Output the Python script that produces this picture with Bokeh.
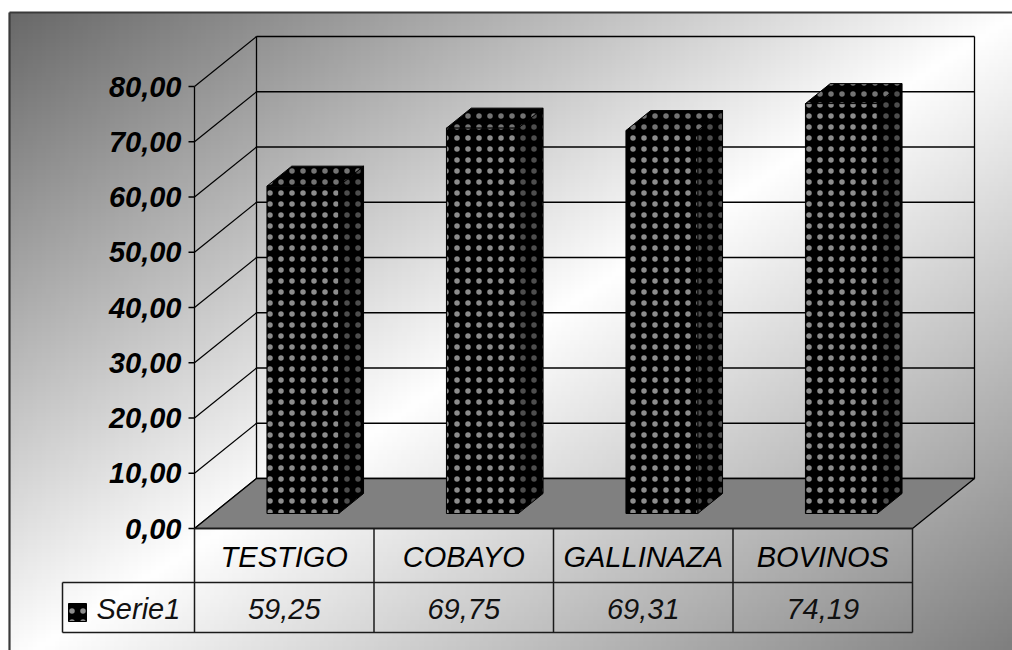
import numpy as np
from bokeh.plotting import figure
from bokeh.models import Range1d
from bokeh.core.properties import value
from bokeh.embed import file_html
from bokeh.resources import INLINE

# ---- data -------------------------------------------------------------
categories = ["TESTIGO", "COBAYO", "GALLINAZA", "BOVINOS"]
serie1 = [59.25, 69.75, 69.31, 74.19]
series_name = "Serie1"
y_ticks = [0, 10, 20, 30, 40, 50, 60, 70, 80]
y_tick_labels = ["0,00", "10,00", "20,00", "30,00", "40,00",
                 "50,00", "60,00", "70,00", "80,00"]

# ---- canvas geometry (1 x-unit = one category slot, 1 y-unit = one value unit)
W, H = 1012, 650
PX_X = 179.5           # pixels per category
PX_Y = 5.525           # pixels per value unit
ORIGIN_PX = (194, 528)  # front-left corner of the floor
x_lo = -ORIGIN_PX[0] / PX_X
x_hi = (W - ORIGIN_PX[0]) / PX_X
y_lo = (ORIGIN_PX[1] - H) / PX_Y
y_hi = ORIGIN_PX[1] / PX_Y

def px_to_x(px):
    return (px - ORIGIN_PX[0]) / PX_X

def py_to_y(py):
    return (ORIGIN_PX[1] - py) / PX_Y

DX = 62 / PX_X         # oblique depth offset of the walls
DY = 50 / PX_Y
N = len(categories)
YMAX = y_ticks[-1]

FONT = value("Liberation Sans")

p = figure(width=W, height=H, x_range=Range1d(x_lo, x_hi), y_range=Range1d(y_lo, y_hi),
           output_backend="svg", toolbar_location=None, min_border=0,
           x_axis_location=None, y_axis_location=None)
p.grid.visible = False
p.outline_line_color = None
p.background_fill_color = "white"
p.border_fill_color = "white"

# ---- diagonal grey-white-grey background inside the chart border ----------
fx0, fy0 = 9, 12
nx, ny = 220, 150
jj = (np.arange(nx) + 0.5) / nx
rr = (np.arange(ny) + 0.5) / ny
gx = fx0 + jj * (W - fx0)
gy = H - rr * (H - fy0)
GX, GY = np.meshgrid(gx, gy)
t = ((GX - fx0) / 1010 + (GY - fy0) / 655) / 2
g = np.where(t < 0.5, 104 + (255 - 104) * (t / 0.5), 255 - (255 - 122) * ((t - 0.5) / 0.5))
g = np.clip(g, 0, 255).astype(np.uint8)
img = np.empty((ny, nx), dtype=np.uint32)
view = img.view(dtype=np.uint8).reshape((ny, nx, 4))
view[..., 0] = g
view[..., 1] = g
view[..., 2] = g
view[..., 3] = 255
p.image_rgba(image=[img], x=px_to_x(fx0), y=y_lo, dw=x_hi - px_to_x(fx0), dh=py_to_y(fy0) - y_lo)

# chart border (top and left edges)
p.segment(x0=[px_to_x(fx0), px_to_x(fx0)], y0=[py_to_y(fy0), py_to_y(fy0)],
          x1=[x_hi, px_to_x(fx0)], y1=[py_to_y(fy0), y_lo],
          line_color="#3a3a3a", line_width=2.2)

# ---- walls and floor --------------------------------------------------
# back-wall gridlines
p.segment(x0=[DX] * len(y_ticks), y0=[v + DY for v in y_ticks],
          x1=[N + DX] * len(y_ticks), y1=[v + DY for v in y_ticks],
          line_color="black", line_width=1.3)
# left-wall diagonals
p.segment(x0=[0] * len(y_ticks), y0=y_ticks,
          x1=[DX] * len(y_ticks), y1=[v + DY for v in y_ticks],
          line_color="black", line_width=1.2)
# wall edges and front axis line
p.segment(x0=[DX, N + DX, 0], y0=[DY, DY, 0],
          x1=[DX, N + DX, 0], y1=[YMAX + DY, YMAX + DY, YMAX],
          line_color="black", line_width=1.3)
# floor
p.patch(x=[0, N, N + DX, DX], y=[0, 0, DY, DY],
        fill_color="#808080", line_color="black", line_width=1.3)

# axis ticks and labels
tick_len = 6 / PX_X
p.segment(x0=[-tick_len] * len(y_ticks), y0=y_ticks, x1=[0] * len(y_ticks), y1=y_ticks,
          line_color="black", line_width=1.3)
p.text(x=[px_to_x(181)] * len(y_ticks), y=y_ticks, text=y_tick_labels,
       text_font=FONT, text_font_size="29px", text_font_style="bold italic",
       text_align="right", text_baseline="middle", text_color="black")

# ---- dotted 3D columns ------------------------------------------------
BAR_X0, BAR_X1 = 0.3, 0.7     # bar extent within its category slot
F1, F2 = 0.3, 0.7             # bar front/back depth fractions
a1, b1 = F1 * DX, F1 * DY
a2, b2 = F2 * DX, F2 * DY

front_xs, front_ys, side_xs, side_ys, top_xs, top_ys = [], [], [], [], [], []
for i, v in enumerate(serie1):
    x0, x1 = i + BAR_X0, i + BAR_X1
    front_xs.append([x0 + a1, x1 + a1, x1 + a1, x0 + a1])
    front_ys.append([b1, b1, v + b1, v + b1])
    side_xs.append([x1 + a1, x1 + a2, x1 + a2, x1 + a1])
    side_ys.append([b1, b2, v + b2, v + b1])
    top_xs.append([x0 + a1, x1 + a1, x1 + a2, x0 + a2])
    top_ys.append([v + b1, v + b1, v + b2, v + b2])

dots = dict(fill_color="black", line_color="black", line_width=1,
            hatch_pattern="dot", hatch_scale=11, hatch_weight=0.3, hatch_color="white")
p.patches(side_xs, side_ys, hatch_alpha=0.3, **dots)
p.patches(top_xs, top_ys, hatch_alpha=0.45, **dots)
p.patches(front_xs, front_ys, hatch_alpha=0.55, **dots)

# ---- data table -------------------------------------------------------
ROW1 = py_to_y(582)
ROW2 = py_to_y(632)
LABEL_X = px_to_x(62)
# horizontal rules
p.segment(x0=[0, LABEL_X, LABEL_X], y0=[0, ROW1, ROW2],
          x1=[N, N, N], y1=[0, ROW1, ROW2],
          line_color="#1a1a1a", line_width=1.5)
# vertical rules
p.segment(x0=list(range(N + 1)) + [LABEL_X], y0=[0] * (N + 1) + [ROW1],
          x1=list(range(N + 1)) + [LABEL_X], y1=[ROW2] * (N + 2),
          line_color="#1a1a1a", line_width=1.5)

centers = [i + 0.5 for i in range(N)]
p.text(x=centers, y=[py_to_y(556)] * N, text=categories,
       text_font=FONT, text_font_size="29px", text_font_style="italic",
       text_align="center", text_baseline="middle", text_color="black")
value_labels = [f"{v:.2f}".replace(".", ",") for v in serie1]
p.text(x=centers, y=[py_to_y(608)] * N, text=value_labels,
       text_font=FONT, text_font_size="29px", text_font_style="italic",
       text_align="center", text_baseline="middle", text_color="#111111")

# legend key and series name
p.scatter(x=[px_to_x(77)], y=[py_to_y(612)], marker="square", size=18,
          fill_color="black", line_color="black", hatch_pattern="dot",
          hatch_color="white", hatch_alpha=0.55, hatch_scale=11, hatch_weight=0.3)
p.text(x=[px_to_x(96)], y=[py_to_y(608)], text=[series_name],
       text_font=FONT, text_font_size="29px", text_font_style="italic",
       text_align="left", text_baseline="middle", text_color="#111111")

open("out.html", "w").write(file_html(p, INLINE))
